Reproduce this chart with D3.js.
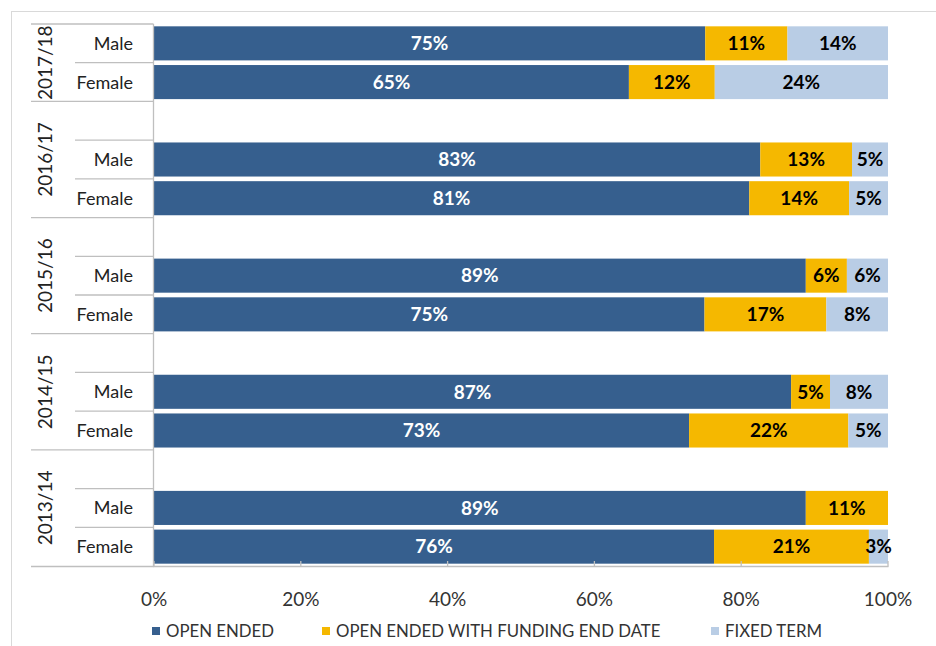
<!DOCTYPE html>
<html>
<head>
<meta charset="utf-8">
<script src="https://cdn.jsdelivr.net/npm/d3@7"></script>
<style>
  body { margin: 0; background: #fff; }
  svg { display: block; font-family: Lato, "Open Sans", sans-serif; }
</style>
</head>
<body>
<svg id="chart" width="936" height="646"></svg>
<script>
// data, top to bottom (Male then Female inside each year)
var years = ["2017/18", "2016/17", "2015/16", "2014/15", "2013/14"];
var genders = ["Male", "Female"];
var openEnded   = [75.1, 64.7, 82.6, 81.1, 88.8, 75.0, 86.8, 72.9, 88.8, 76.3];
var fundingEnd  = [11.2, 11.7, 12.5, 13.6, 5.6, 16.6, 5.3, 21.7, 11.2, 21.1];
var fixedTerm   = [13.7, 23.6, 4.9, 5.3, 5.6, 8.4, 7.9, 5.4, 0, 2.6];
var seriesNames = ["OPEN ENDED", "OPEN ENDED WITH FUNDING END DATE", "FIXED TERM"];
var ticks = [0, 20, 40, 60, 80, 100];

var colors = ["#365f8e", "#f5b800", "#b9cde5"];
var labelColors = ["#ffffff", "#000000", "#000000"];
var keys = ["open", "funding", "fixed"];

// build rows, with a blank row above every year except the first
var rows = [];
var k = 0;
years.forEach(function(yr, i){
  if(i > 0){
    rows.push({id: yr + "-blank", year: yr, blank: true});
  }
  genders.forEach(function(g){
    rows.push({id: yr + "-" + g, year: yr, gender: g, blank: false,
               open: openEnded[k], funding: fundingEnd[k], fixed: fixedTerm[k]});
    k++;
  });
});
var dataRows = rows.filter(function(r){ return !r.blank; });

var svg = d3.select("#chart");
var plotTop = 24, plotBottom = 566, plotLeft = 154, plotRight = 888;

// chart frame
svg.append("rect")
   .attr("x", 11.5).attr("y", 11.5)
   .attr("width", 940).attr("height", 660)
   .attr("fill", "none").attr("stroke", "#d9d9d9");

var x = d3.scaleLinear().domain([0, 100]).range([plotLeft, plotRight]);
var y = d3.scaleBand()
          .domain(rows.map(function(r){ return r.id; }))
          .range([plotTop, plotBottom])
          .paddingInner(0.12)
          .paddingOuter(0.06);
var step = y.step();

var stack = d3.stack().keys(keys);
var stacked = stack(dataRows);

// bars
var layer = svg.append("g").selectAll("g")
   .data(stacked)
   .enter().append("g")
   .attr("fill", function(d, i){ return colors[i]; });

layer.selectAll("rect")
   .data(function(d){ return d; })
   .enter().append("rect")
   .attr("x", function(d){ return x(d[0]); })
   .attr("y", function(d){ return y(d.data.id); })
   .attr("width", function(d){ return x(d[1]) - x(d[0]); })
   .attr("height", y.bandwidth());

// value labels
stacked.forEach(function(s, i){
  svg.append("g").selectAll("text")
     .data(s.filter(function(d){ return d[1] - d[0] > 0; }))
     .enter().append("text")
     .attr("x", function(d){ return x((d[0] + d[1]) / 2); })
     .attr("y", function(d){ return y(d.data.id) + y.bandwidth() / 2; })
     .attr("dy", "0.36em")
     .attr("text-anchor", "middle")
     .attr("fill", labelColors[i])
     .style("font-size", "19px")
     .style("font-weight", "bold")
     .text(function(d){ return Math.round(d[1] - d[0]) + "%"; });
});

// axis lines and category structure
var lineColor = "#bfbfbf";
var g = svg.append("g").attr("stroke", lineColor).attr("stroke-width", 1.3);

g.append("line")
 .attr("x1", plotLeft - 0.5).attr("x2", plotLeft - 0.5)
 .attr("y1", plotTop).attr("y2", plotBottom + 0.5);
g.append("line")
 .attr("x1", plotLeft - 1).attr("x2", plotRight + 0.5)
 .attr("y1", plotBottom + 0.5).attr("y2", plotBottom + 0.5);

// x ticks (inside)
g.selectAll(".tick")
 .data(ticks)
 .enter().append("line")
 .attr("x1", function(d){ return x(d); })
 .attr("x2", function(d){ return x(d); })
 .attr("y1", plotBottom + 0.5).attr("y2", plotBottom - 5);

// row boundary lines in the label area
rows.forEach(function(r, i){
  var yy = plotTop + i * step;
  var groupStart = (i === 0) || r.blank;
  g.append("line")
   .attr("x1", groupStart ? 31 : 75).attr("x2", plotLeft - 0.5)
   .attr("y1", yy).attr("y2", yy);
});
g.append("line")
 .attr("x1", 31).attr("x2", plotLeft - 0.5)
 .attr("y1", plotBottom + 0.5).attr("y2", plotBottom + 0.5);

// gender labels
svg.append("g").selectAll("text")
   .data(dataRows)
   .enter().append("text")
   .attr("x", 133)
   .attr("y", function(d){ return y(d.id) + y.bandwidth() / 2; })
   .attr("dy", "0.36em")
   .attr("text-anchor", "end")
   .attr("fill", "#222")
   .style("font-size", "18px")
   .text(function(d){ return d.gender; });

// year labels, rotated and centred on their group
years.forEach(function(yr, i){
  var ids = rows.filter(function(r){ return r.year === yr; });
  var y0 = plotTop + rows.indexOf(ids[0]) * step;
  var y1 = plotTop + (rows.indexOf(ids[ids.length - 1]) + 1) * step;
  svg.append("text")
     .attr("transform", "translate(45," + ((y0 + y1) / 2) + ") rotate(-90)")
     .attr("dy", "0.36em")
     .attr("text-anchor", "middle")
     .attr("fill", "#222")
     .style("font-size", "19px")
     .text(yr);
});

// x tick labels
svg.append("g").selectAll("text")
   .data(ticks)
   .enter().append("text")
   .attr("x", function(d){ return x(d); })
   .attr("y", 599)
   .attr("dy", "0.36em")
   .attr("text-anchor", "middle")
   .attr("fill", "#333")
   .style("font-size", "19px")
   .text(function(d){ return d + "%"; });

// legend
var legendX = [152, 322, 711];
var legend = svg.append("g").selectAll("g")
   .data(seriesNames)
   .enter().append("g")
   .attr("transform", function(d, i){ return "translate(" + legendX[i] + ",631)"; });
legend.append("rect")
   .attr("x", 0).attr("y", -4)
   .attr("width", 8).attr("height", 8)
   .attr("fill", function(d, i){ return colors[i]; });
legend.append("text")
   .attr("x", 14)
   .attr("dy", "0.36em")
   .attr("fill", "#333")
   .style("font-size", "16.8px")
   .text(function(d){ return d; });
</script>
</body>
</html>
